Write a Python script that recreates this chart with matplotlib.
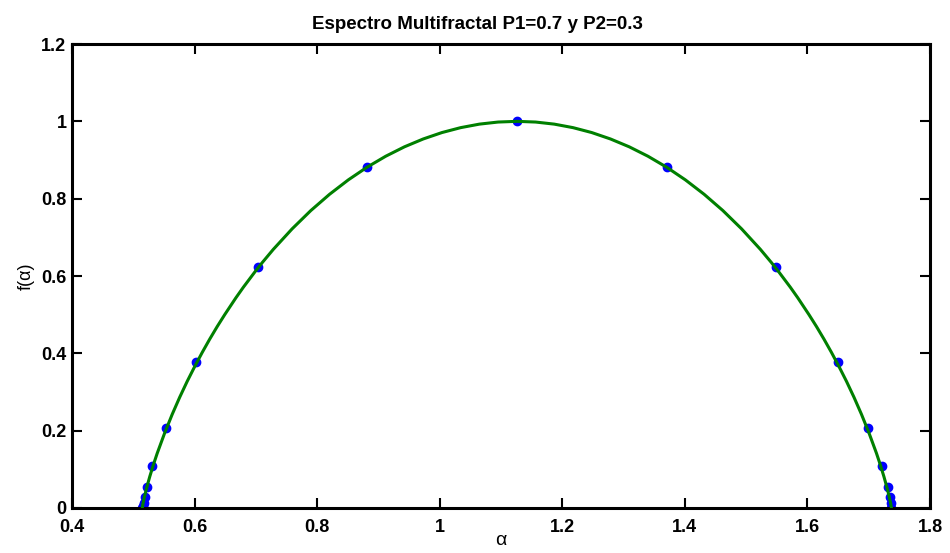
import matplotlib
matplotlib.use("Agg")
import matplotlib.pyplot as plt
import numpy as np

# puntos del espectro (marcadores azules)
alpha_pts = [0.515, 0.516, 0.517, 0.519, 0.522, 0.531, 0.554, 0.602, 0.703, 0.881, 1.126,
             1.370, 1.549, 1.650, 1.698, 1.721, 1.731, 1.734, 1.736, 1.737]
f_pts = [0.0, 0.004, 0.013, 0.028, 0.055, 0.108, 0.208, 0.377, 0.622, 0.882, 1.0,
         0.882, 0.622, 0.377, 0.208, 0.108, 0.055, 0.028, 0.013, 0.0]

# curva continua (verde)
alpha_line = [0.5146, 0.5158, 0.5177, 0.5207, 0.5238, 0.5268, 0.5329, 0.5390, 0.5513, 0.5635,
              0.5757, 0.5879, 0.6002, 0.6124, 0.6246, 0.6368, 0.6491, 0.6674, 0.6796, 0.6980,
              0.7102, 0.7285, 0.7591, 0.7896, 0.8202, 0.8508, 0.8813, 0.9119, 0.9424, 0.9730,
              1.0036, 1.0341, 1.0647, 1.0952, 1.1258,
              1.1564, 1.1869, 1.2175, 1.2480, 1.2786, 1.3092, 1.3397, 1.3703, 1.4008, 1.4314,
              1.4620, 1.4925, 1.5231, 1.5414, 1.5536, 1.5720, 1.5842, 1.6025, 1.6148, 1.6270,
              1.6392, 1.6514, 1.6637, 1.6759, 1.6881, 1.7003, 1.7126, 1.7187, 1.7248, 1.7278,
              1.7309, 1.7339, 1.7358, 1.7370]
f_line = [0.0, 0.0114, 0.0252, 0.0454, 0.0637, 0.0808, 0.1124, 0.1414, 0.1944, 0.2423,
          0.2864, 0.3274, 0.3659, 0.4022, 0.4365, 0.4690, 0.4999, 0.5436, 0.5710, 0.6098,
          0.6343, 0.6690, 0.7219, 0.7692, 0.8113, 0.8486, 0.8813, 0.9098, 0.9341, 0.9544,
          0.9710, 0.9837, 0.9928, 0.9982, 1.0,
          0.9982, 0.9928, 0.9837, 0.9710, 0.9544, 0.9341, 0.9098, 0.8813, 0.8486, 0.8113,
          0.7692, 0.7219, 0.6690, 0.6343, 0.6098, 0.5710, 0.5436, 0.4999, 0.4690, 0.4365,
          0.4022, 0.3659, 0.3274, 0.2864, 0.2423, 0.1944, 0.1414, 0.1124, 0.0808, 0.0637,
          0.0454, 0.0252, 0.0114, 0.0]

xticks = [0.4, 0.6, 0.8, 1.0, 1.2, 1.4, 1.6, 1.8]
xtick_labels = ["0.4", "0.6", "0.8", "1", "1.2", "1.4", "1.6", "1.8"]
yticks = [0, 0.2, 0.4, 0.6, 0.8, 1.0, 1.2]
ytick_labels = ["0", "0.2", "0.4", "0.6", "0.8", "1", "1.2"]

plt.rcParams["font.family"] = ["Liberation Sans", "DejaVu Sans"]

fig = plt.figure(figsize=(9.5, 5.53), dpi=100)
ax = fig.add_axes([0.0758, 0.0814, 0.9032, 0.839])

ax.plot(alpha_pts, f_pts, "o", color="#0000ff", markersize=6, zorder=2)
ax.plot(alpha_line, f_line, "-", color="#008000", linewidth=2.2, zorder=3)

ax.set_xlim(0.4, 1.8)
ax.set_ylim(0, 1.2)
ax.set_xticks(xticks)
ax.set_xticklabels(xtick_labels, fontsize=13, fontweight="bold")
ax.set_yticks(yticks)
ax.set_yticklabels(ytick_labels, fontsize=13, fontweight="bold")
ax.tick_params(direction="in", length=7, width=1.5, top=True, right=True)
ax.tick_params(axis="x", pad=8)
ax.tick_params(axis="y", pad=4)
for s in ax.spines.values():
    s.set_linewidth(2.2)

ax.set_title("Espectro Multifractal P1=0.7 y P2=0.3", fontsize=13.5, fontweight="bold",
             pad=11, x=0.473)
ax.set_xlabel("\u03b1", fontsize=14, labelpad=-3)
ax.set_ylabel("f(\u03b1)", fontsize=13, labelpad=5)

fig.savefig("out.png", dpi=100)
